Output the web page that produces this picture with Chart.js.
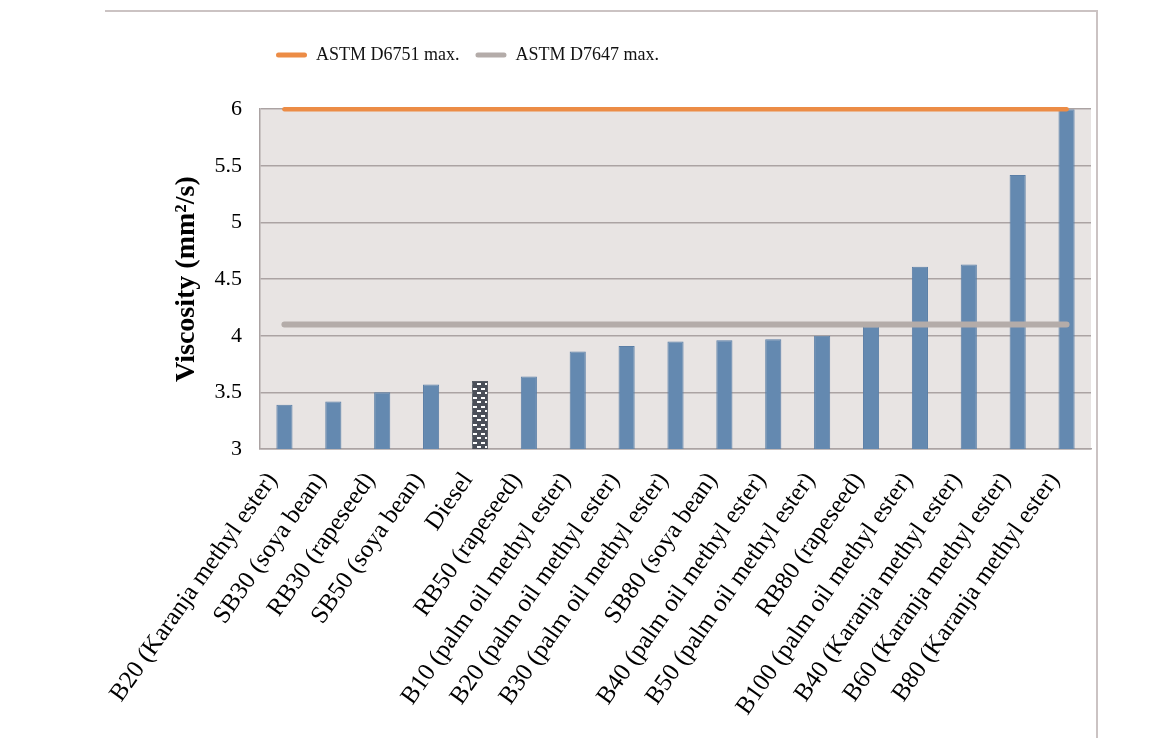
<!DOCTYPE html>
<html>
<head>
<meta charset="utf-8">
<script src="https://cdn.jsdelivr.net/npm/chart.js@4.4.0/dist/chart.umd.min.js"></script>
<style>
html,body{margin:0;padding:0;background:#ffffff;}
#wrap{position:relative;width:1161px;height:738px;}
</style>
</head>
<body>
<div id="wrap"><canvas id="c" width="1161" height="738"></canvas></div>
<script>
// ---- Data ----
const categories = [
  'B20 (Karanja methyl ester)',
  'SB30 (soya bean)',
  'RB30 (rapeseed)',
  'SB50 (soya bean)',
  'Diesel',
  'RB50 (rapeseed)',
  'B10 (palm oil methyl ester)',
  'B20 (palm oil methyl ester)',
  'B30 (palm oil methyl ester)',
  'SB80 (soya bean)',
  'B40 (palm oil methyl ester)',
  'B50 (palm oil methyl ester)',
  'RB80 (rapeseed)',
  'B100 (palm oil methyl ester)',
  'B40 (Karanja methyl ester)',
  'B60 (Karanja methyl ester)',
  'B80 (Karanja methyl ester)'
];
const viscosity = [3.39, 3.42, 3.50, 3.57, 3.60, 3.64, 3.86, 3.91, 3.95, 3.96, 3.97, 4.00, 4.08, 4.61, 4.63, 5.42, 6.00];
const astmD6751Max = [6, 6, 6, 6, 6, 6, 6, 6, 6, 6, 6, 6, 6, 6, 6, 6, 6];
const astmD7647Max = [4.1, 4.1, 4.1, 4.1, 4.1, 4.1, 4.1, 4.1, 4.1, 4.1, 4.1, 4.1, 4.1, 4.1, 4.1, 4.1, 4.1];
const yTicks = [3, 3.5, 4, 4.5, 5, 5.5, 6];
const yTickLabels = ['3', '3.5', '4', '4.5', '5', '5.5', '6'];
const seriesNames = ['ASTM D6751 max.', 'ASTM D7647 max.'];
const yTitle = 'Viscosity (mm²/s)';

// ---- Styles ----
const FONT = "'Liberation Serif', 'Times New Roman', serif";
const BAR_COLOR = '#6489b0';
const ORANGE = '#ec8c46';
const GREY_LINE = '#b4aca9';
const GRID = '#aba3a3';
const PLOT_BG = '#e8e4e3';

function makeDieselPattern() {
  const c = document.createElement('canvas');
  c.width = 8; c.height = 9;
  const g = c.getContext('2d');
  g.fillStyle = '#4a4e58';
  g.fillRect(0, 0, 8, 9);
  g.fillStyle = '#ffffff';
  g.fillRect(1, 1, 4, 2);
  g.fillRect(5, 5, 4, 2);
  g.fillRect(-3, 5, 4, 2);
  return g.createPattern(c, 'repeat');
}
const dieselPattern = makeDieselPattern();

const decoPlugin = {
  id: 'deco',
  beforeDraw(chart) {
    const ctx = chart.ctx;
    const a = chart.chartArea;
    ctx.save();
    ctx.fillStyle = '#ffffff';
    ctx.fillRect(0, 0, chart.width, chart.height);
    ctx.strokeStyle = '#cbc3c3';
    ctx.lineWidth = 2;
    ctx.beginPath();
    ctx.moveTo(105, 11);
    ctx.lineTo(1097, 11);
    ctx.lineTo(1097, 738);
    ctx.stroke();
    ctx.fillStyle = PLOT_BG;
    ctx.fillRect(a.left, a.top, a.right - a.left, a.bottom - a.top);
    ctx.restore();
  }
};

const legendShift = {
  id: 'legendShift',
  afterLayout(chart) {
    const lg = chart.legend;
    if (!lg) return;
    const w = lg.right - lg.left;
    lg.left = 276 - 16;
    lg.right = lg.left + w;
  }
};

new Chart(document.getElementById('c'), {
  data: {
    labels: categories,
    datasets: [
      {
        type: 'line',
        label: seriesNames[0],
        data: astmD6751Max,
        borderColor: ORANGE,
        backgroundColor: ORANGE,
        borderWidth: 4.5,
        borderCapStyle: 'round',
        pointRadius: 0,
        fill: false,
        clip: false,
        order: 1
      },
      {
        type: 'line',
        label: seriesNames[1],
        data: astmD7647Max,
        borderColor: GREY_LINE,
        backgroundColor: GREY_LINE,
        borderWidth: 6,
        borderCapStyle: 'round',
        pointRadius: 0,
        fill: false,
        clip: false,
        order: 1
      },
      {
        type: 'bar',
        label: 'Viscosity',
        data: viscosity,
        backgroundColor: categories.map(c => c === 'Diesel' ? dieselPattern : BAR_COLOR),
        borderColor: categories.map(c => c === 'Diesel' ? '#555a63' : '#5a7ea6'),
        borderWidth: 1,
        barPercentage: 0.66,
        categoryPercentage: 0.5,
        order: 2
      }
    ]
  },
  options: {
    responsive: false,
    animation: false,
    devicePixelRatio: 1,
    layout: { padding: { top: 30, right: 70, bottom: 0, left: 0 } },
    plugins: {
      tooltip: { enabled: false },
      legend: {
        display: true,
        position: 'top',
        align: 'start',
        labels: {
          font: { family: FONT, size: 18 },
          color: '#111111',
          padding: 16,
          boxWidth: 31,
          boxHeight: 5,
          useBorderRadius: true,
          borderRadius: 2.5,
          generateLabels() {
            return [
              { text: seriesNames[0], fillStyle: ORANGE, strokeStyle: ORANGE, lineWidth: 0, hidden: false, datasetIndex: 0, borderRadius: 2.5, fontColor: '#111111' },
              { text: seriesNames[1], fillStyle: GREY_LINE, strokeStyle: GREY_LINE, lineWidth: 0, hidden: false, datasetIndex: 1, borderRadius: 2.5, fontColor: '#111111' }
            ];
          }
        }
      },
      title: {
        display: true,
        text: '',
        weight: 500,
        font: { size: 1 },
        padding: { top: 34, bottom: 0 }
      }
    },
    scales: {
      x: {
        grid: { display: false, drawTicks: false },
        border: { display: true, color: GRID, width: 1.5 },
        ticks: {
          autoSkip: false,
          minRotation: 55,
          maxRotation: 55,
          padding: 18,
          labelOffset: -12,
          color: '#000000',
          font: { family: FONT, size: 25 }
        },
        afterFit(scale) { scale.height = 289; }
      },
      y: {
        min: 3,
        max: 6,
        grid: { color: GRID, lineWidth: 1.5, drawTicks: false },
        border: { display: true, color: GRID, width: 1.5 },
        afterBuildTicks(scale) { scale.ticks = yTicks.map(v => ({ value: v })); },
        ticks: {
          padding: 18,
          color: '#000000',
          font: { family: FONT, size: 22 },
          callback(value) { const i = yTicks.indexOf(value); return i >= 0 ? yTickLabels[i] : String(value); }
        },
        title: {
          display: true,
          text: yTitle,
          color: '#000000',
          font: { family: FONT, size: 28, weight: 'bold' },
          padding: { top: 170, bottom: 0 }
        },
        afterFit(scale) { scale.width = 260; }
      }
    }
  },
  plugins: [decoPlugin, legendShift]
});
</script>
</body>
</html>
